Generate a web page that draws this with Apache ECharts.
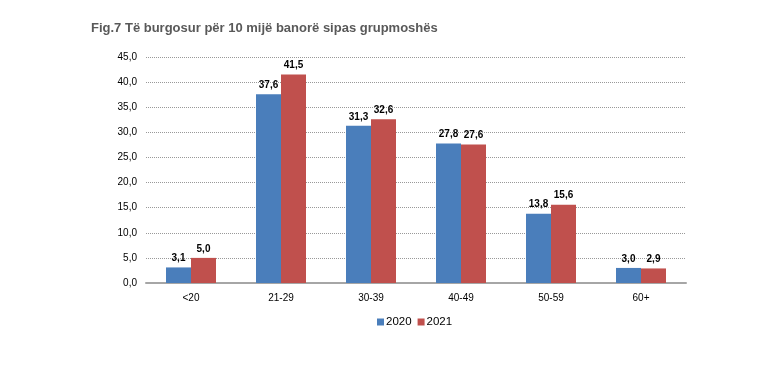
<!DOCTYPE html>
<html><head><meta charset="utf-8">
<script src="https://cdn.jsdelivr.net/npm/echarts@6/dist/echarts.min.js"></script>
<style>html,body{margin:0;padding:0;background:#fff}#c{width:777px;height:370px}</style>
</head><body><div id="c"></div>
<script>
var categories = ['<20','21-29','30-39','40-49','50-59','60+'];
var s2020 = [3.1,37.6,31.3,27.8,13.8,3.0];
var s2021 = [5.0,41.5,32.6,27.6,15.6,2.9];
var fmt = function(v){return v.toFixed(1).replace('.',',');};
var chart = echarts.init(document.getElementById('c'));
var lbl = {show:true,position:'top',fontFamily:'Liberation Sans',fontSize:10,fontWeight:'bold',color:'#000',distance:4,formatter:function(p){return fmt(p.value);}};
chart.setOption({
  animation:false,
  title:{text:'Fig.7 Të burgosur për 10 mijë banorë sipas grupmoshës',left:86,top:17,textStyle:{fontFamily:'Liberation Sans',fontSize:13,fontWeight:'bold',color:'#595959'}},
  grid:{left:146,right:91,top:57,bottom:87},
  legend:{bottom:37,left:372,itemWidth:7,itemHeight:7,itemGap:6,icon:'rect',textStyle:{fontFamily:'Liberation Sans',fontSize:11.5,color:'#000',padding:[0,0,0,-3]}},
  xAxis:{type:'category',data:categories,axisTick:{show:false},axisLine:{lineStyle:{color:'#a6a6a6',width:2}},axisLabel:{fontFamily:'Liberation Sans',fontSize:10,color:'#000',margin:10}},
  yAxis:{type:'value',min:0,max:45,interval:5,axisLabel:{fontFamily:'Liberation Sans',fontSize:10,color:'#000',margin:9,formatter:fmt},splitLine:{lineStyle:{type:'dotted',color:'#999'}},axisLine:{show:false},axisTick:{show:false}},
  series:[
    {name:'2020',type:'bar',data:s2020,barWidth:25,barGap:'0%',itemStyle:{color:'#4a7ebb'},label:lbl},
    {name:'2021',type:'bar',data:s2021,barWidth:25,itemStyle:{color:'#c0504d'},label:lbl}
  ]
});
</script></body></html>
